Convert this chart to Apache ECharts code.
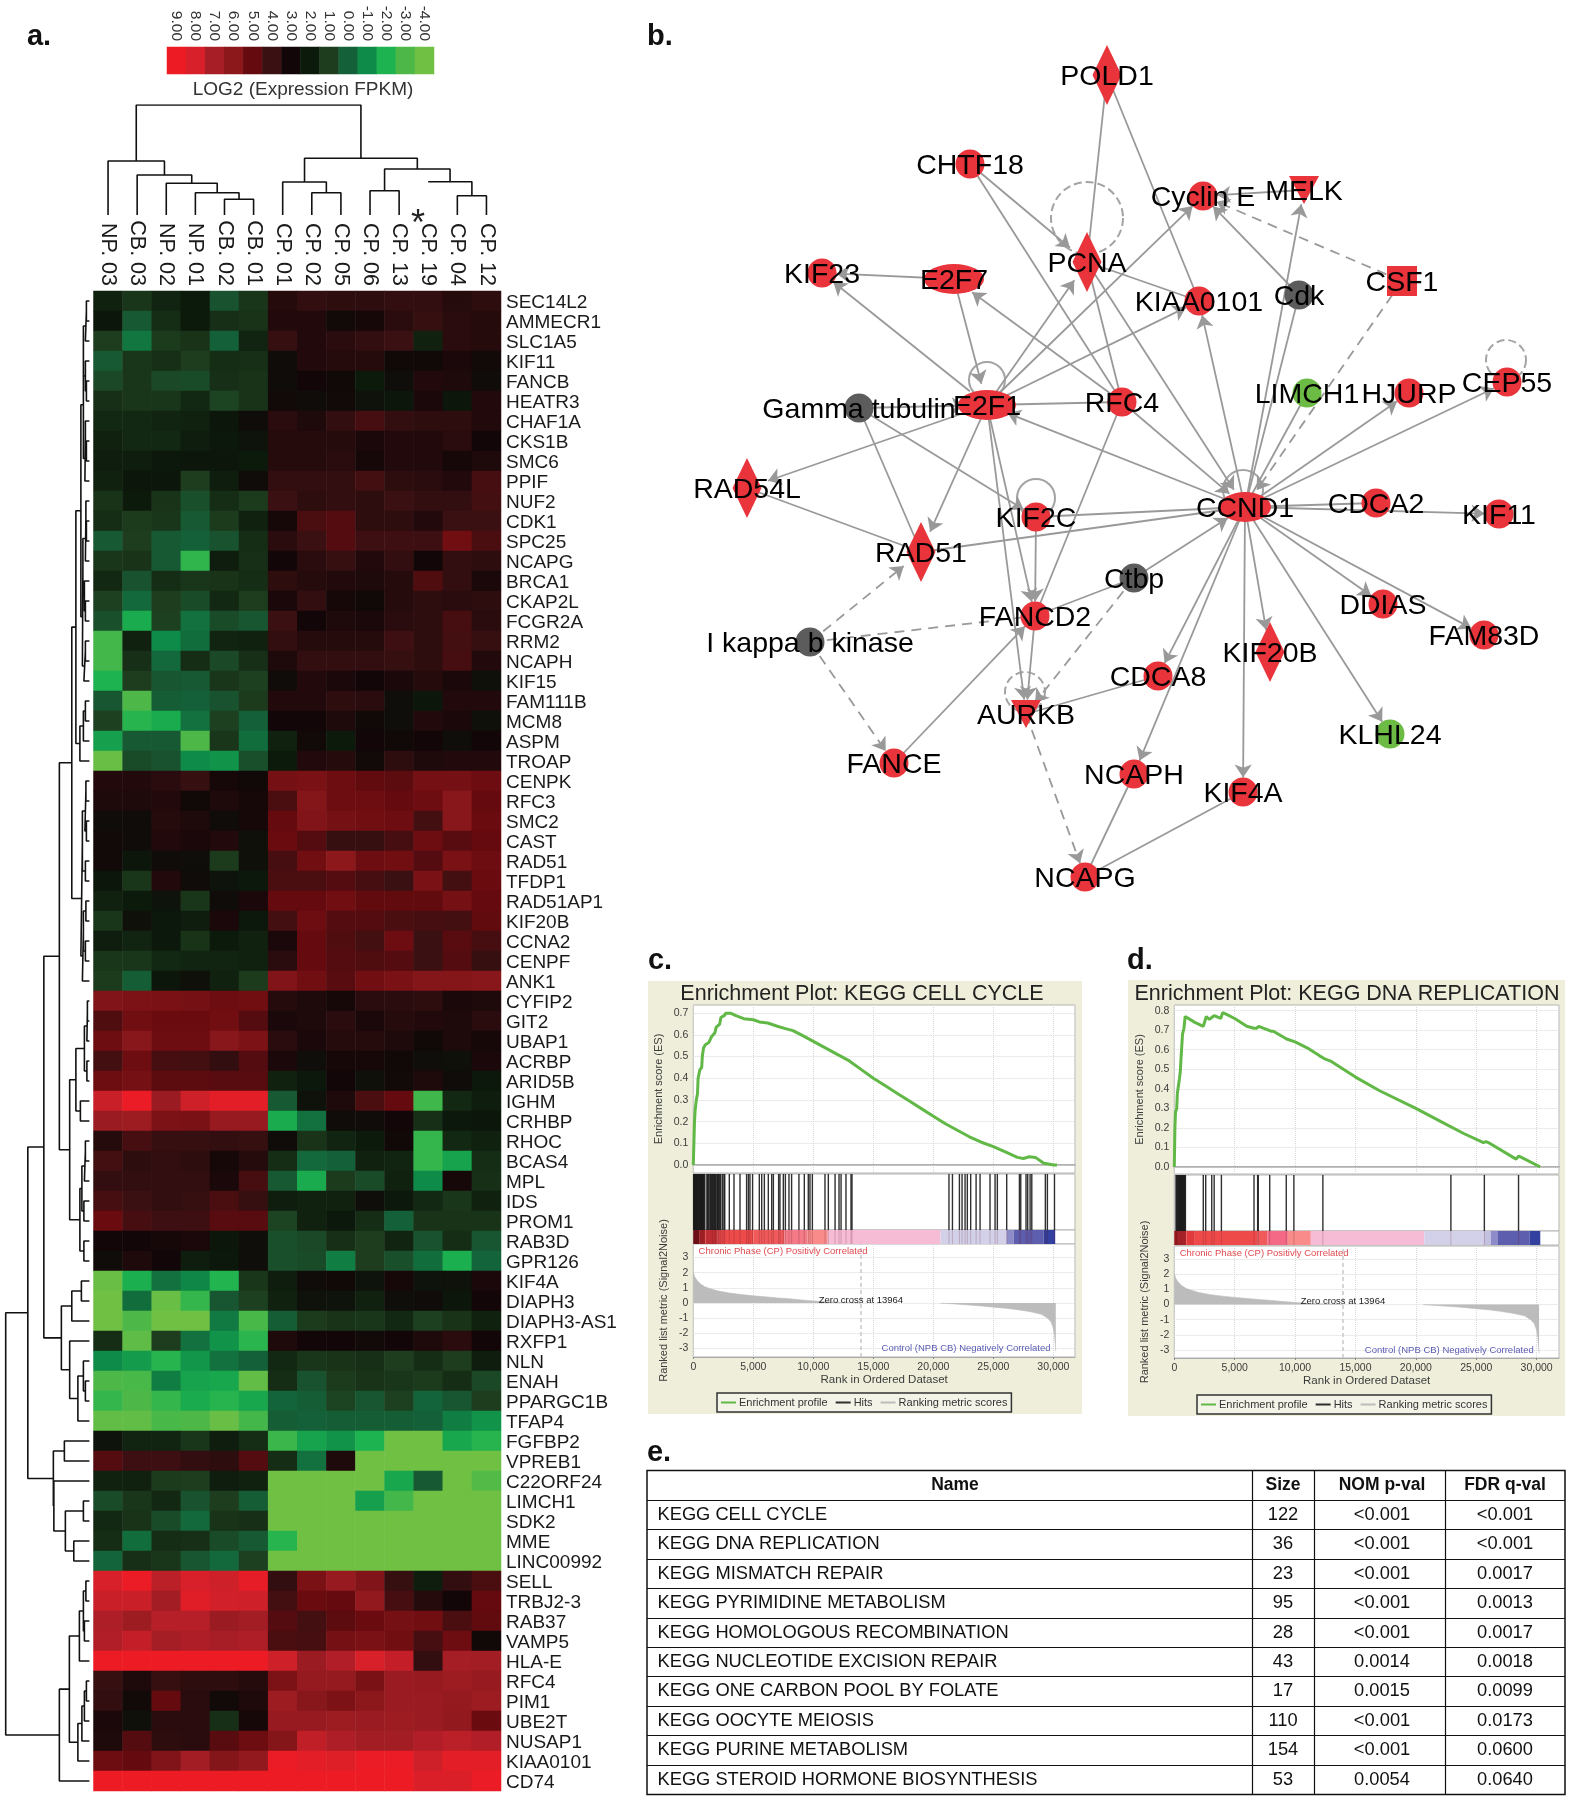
<!DOCTYPE html>
<html><head><meta charset="utf-8">
<style>html,body{margin:0;padding:0;background:#fff}#c{width:1575px;height:1798px}</style>
<script src="https://cdn.jsdelivr.net/npm/echarts@6/dist/echarts.min.js"></script>
</head><body><div id="c"></div>
<script>
const FONT='"Liberation Sans"';
// ---------- panel a data ----------
const sampleLabels=['NP. 03','CB. 03','NP. 02','NP. 01','CB. 02','CB. 01','CP. 01','CP. 02','CP. 05','CP. 06','CP. 13','CP. 19','CP. 04','CP. 12'];
const geneLabels=['SEC14L2','AMMECR1','SLC1A5','KIF11','FANCB','HEATR3','CHAF1A','CKS1B','SMC6','PPIF','NUF2','CDK1','SPC25','NCAPG','BRCA1','CKAP2L','FCGR2A','RRM2','NCAPH','KIF15','FAM111B','MCM8','ASPM','TROAP','CENPK','RFC3','SMC2','CAST','RAD51','TFDP1','RAD51AP1','KIF20B','CCNA2','CENPF','ANK1','CYFIP2','GIT2','UBAP1','ACRBP','ARID5B','IGHM','CRHBP','RHOC','BCAS4','MPL','IDS','PROM1','RAB3D','GPR126','KIF4A','DIAPH3','DIAPH3-AS1','RXFP1','NLN','ENAH','PPARGC1B','TFAP4','FGFBP2','VPREB1','C22ORF24','LIMCH1','SDK2','MME','LINC00992','SELL','TRBJ2-3','RAB37','VAMP5','HLA-E','RFC4','PIM1','UBE2T','NUSAP1','KIAA0101','CD74'];
const expression=[
[1.8,1.2,1.7,2,0.4,1.2,3.5,3.8,3.7,3.7,3.8,3.8,3.5,3.7],
[2.2,0.2,1.5,2,1.4,1.3,3.4,3.4,2.8,3.1,3.6,3.9,3.6,3.5],
[1,-0.5,1.1,1.3,0,1.7,3.9,3.4,3.6,3.8,4,1.8,3.6,3.5],
[0.2,1.2,1.4,1,1.5,1.4,2.7,3.4,3.5,3.5,2.9,2.9,3.2,2.8],
[0.7,1.2,0.7,0.6,1.4,1.3,2.7,3,2.9,2,2.6,3.4,3.3,2.7],
[1.4,1.2,1.2,1.6,0.8,1.3,2.8,2.7,2.8,2.4,2.2,3.2,2.2,3.4],
[1.6,1.6,1.7,1.8,2.2,2.7,3.6,3.3,3.8,4.3,3.8,3.7,3.7,3.4],
[1.8,1.6,1.6,1.9,2.1,2.3,3.5,3.5,3.5,3.2,3.4,3.4,3.6,3],
[1.9,1.9,2.1,2.2,2.2,2,3.5,3.5,3.6,3.1,3.4,3.4,3.1,3.3],
[1.8,2.2,2.2,1,1.9,2.7,3.8,3.8,3.8,4.2,3.7,3.6,3.4,4.3],
[1.3,2,1.3,0.5,1.5,1.1,4,3.7,3.8,3.7,4,3.8,3.8,4.2],
[1.5,1.1,1.2,0.2,1.1,1.8,3.1,4.4,4.6,3.7,3.7,3.4,4,4],
[0.2,1,0.2,0,0.4,1.5,3.6,4,4.6,4.1,4.1,4.1,5.3,4.4],
[1.2,1.3,0.2,-2.4,1.9,1.4,3,3.6,3.9,3.4,3.8,3,3.8,3.7],
[1.6,0.4,1.5,1.2,1.3,1.5,3.7,3.5,3.4,3.3,3.5,4.5,3.8,3.2],
[0.9,-0.2,1,0.6,1.6,1,3.2,3.8,3.1,2.9,3.5,3.7,3.6,3.7],
[0.5,-1.8,0.9,-0.4,0.6,0.3,4,3,3.3,3.2,3.6,3.7,4.3,3.6],
[-2.8,1.8,-1,-0.3,1.7,1.8,3.8,3.5,3.5,3.5,4.1,3.7,4.2,3.9],
[-2.8,1.4,-0.2,1.5,0.7,1.4,3.3,3.8,3.8,3.8,3.9,3.7,4.3,3.4],
[-2,1,0.3,0.2,1.2,0.9,2.7,3.4,3.2,3,3.2,3.5,3.2,2.5],
[0.3,-3,0.1,0,0.4,1.1,3.4,3.4,3.7,3.6,2.6,2.2,3.4,3.4],
[0.9,-2.2,-1.8,-0.4,0.9,0,3,3,3.3,2.9,2.6,3.4,3.2,2.5],
[-1.5,0.2,0.2,-3,1.2,-0.3,1.8,2.8,2,3,2.9,3,2.6,3],
[-3.8,0.6,0.4,-1,-1.2,0.5,2,3.4,3.5,2.8,3.7,3.3,3.4,3.4],
[3.4,3.4,3.6,3.9,3.1,2.9,5.4,5.5,5.2,4.9,4.8,5.4,5.4,5.2],
[3.3,3.3,3.4,2.9,3.3,3.1,4.4,5.8,5.2,5.2,5,5.2,5.9,5],
[2.7,2.7,3.5,3.3,2.7,3.1,5,5.7,5.4,5.3,5.2,4.2,5.9,5.1],
[2.8,2.7,3.4,3.2,3.4,2.5,5.1,4.6,3.9,3.9,4.3,5.2,4.7,5],
[2.8,2.2,2.7,2.6,1.1,2.5,4.3,5.3,6,5.2,5.3,4.6,5.5,5.2],
[2.2,1.2,3.4,2.7,2.3,2.1,4.4,4.4,4.6,4.3,4,5.5,4.2,5.1],
[1.8,2,2.3,1.2,2.7,3.2,5,5,5.3,4.9,4.9,4.9,5.4,5],
[1.2,2.5,2.1,1.9,3.2,2.1,4.2,5.2,4.6,4.6,4.4,4.3,4.2,4.9],
[1.9,1.7,2.1,1.3,2,1.8,3.2,5,4.5,4.2,5.2,4,4.7,4.3],
[1.2,1.2,1.6,1.7,1.7,1.8,3.6,5,4.6,4.5,4.6,4,4.6,3.9],
[1.1,0.1,2.2,2.5,1.8,1.1,5.7,5.3,4.7,5.3,5.5,5.8,5.8,5.9],
[5.7,5.6,5.5,5.4,5.2,5.3,3.5,3.3,3.1,3.6,3.6,3.7,3.2,3.3],
[4.5,5.3,5.1,5.1,5.3,4.6,3.2,3.3,3.6,3.2,3.5,3.4,3.3,3.6],
[5.2,5.9,5.2,5.2,5.9,5.6,3.6,3.2,3.5,3.5,3.3,2.9,3.3,3.1],
[4.2,5.2,4.3,4.2,3.8,4.6,3.2,2.6,3.1,3.1,2.9,2.6,2.5,3.2],
[5.2,5.4,4.8,4.8,4.7,4.7,1.8,2.1,3,2.5,2.8,3.3,2.7,2.1],
[7.7,8.9,6.5,7.8,8.6,8.6,0.2,2.4,3.3,4.4,5,-2.7,1.6,1.9],
[6.5,6.6,5.6,5.5,6.4,6.4,-1.8,-0.4,2.7,2.7,3,1.4,2.1,2.2],
[3.5,4.3,3.9,3.9,3.8,3.9,2.7,1.3,1.7,2,2.9,-2.5,1.6,1.8],
[4.2,3.7,3.8,3.7,3.1,3.5,1.5,-0.2,0,1.8,1.7,-2.5,-1.6,1.5],
[3.8,3.8,3.8,3.8,3.2,4.3,0.2,-1.8,1.1,0.6,1.8,-1,3.1,1.4],
[4.3,4,3.8,3.9,4.4,3.9,1.9,1.8,1.8,2.6,2.1,1.6,1.2,1.8],
[5.1,4.3,4.1,4.1,4.7,4.7,0.8,1.8,2.1,1.5,0,1.3,1.3,1.3],
[3,3,3.1,3.2,2.2,2.6,0.5,0.7,1.4,1,1.7,0.4,1.5,0.3],
[2.7,3.3,3,1.9,2.1,2.6,0.5,0.6,-0.7,1,0.5,-0.3,-1.9,-0.1],
[-3.8,-1.9,-0.4,-0.9,-2.1,1.2,1.9,2.7,2.9,2.3,3.1,2.3,2.4,3.2],
[-4,-0.3,-3.8,-2.5,0.3,0.9,1.8,2.4,2.3,1.8,2.6,2.7,2.2,3],
[-4,-3,-4,-4,-0.6,-2.9,0.1,1.1,1.3,1.2,1.6,0.9,1.3,1.8],
[1.5,-3.5,1,-0.4,-1.2,-2.3,3.3,3,3,2.8,3,3.3,3.6,3],
[-1,-1.4,-2.2,-1.3,-0.4,0,1.6,1.2,1.3,1.4,1,1.5,1,1.9],
[-3,-2.9,-0.7,-1.6,-1.7,-3.6,1.5,0.4,1.1,1.3,1.2,1.1,1.5,0.7],
[-2.5,-3,-2.5,-1.8,-2.2,-1.7,-0.1,0.1,0.8,0.3,0.9,-0.1,0.3,1],
[-3.6,-3.6,-2.9,-3,-3.8,-2.8,0.1,0,0.1,0.1,0.1,0,-0.7,-1.2],
[2.3,1.7,1.7,1.2,1.9,1.5,-2.6,-1.6,-1.2,-2,-4,-4,-1.7,-2.2],
[4.6,4.1,4.1,3.8,3.7,4.6,1.5,-0.4,3.3,-4,-4,-4,-4,-4],
[1.8,1.8,1.1,1,1.9,1.8,-4,-4,-4,-4,-1.7,0.2,-4,-3.2],
[0.6,1.2,1.6,0.4,1,0.1,-4,-4,-4,-1.5,-2.8,-4,-4,-4],
[1.6,1.3,0.6,-0.2,1.3,1.4,-4,-4,-4,-4,-4,-4,-4,-4],
[1.5,-0.3,1.5,1.4,0.6,0.2,-2.2,-4,-4,-4,-4,-4,-4,-4],
[-0.1,1.4,1.2,0.3,-0.2,0.9,-4,-4,-4,-4,-4,-4,-4,-4],
[8,8.9,7.4,8,7.8,8.7,3.8,5.5,6.4,5.7,3.9,1.9,3.8,4.4],
[7.7,7.7,6.8,8.4,7.9,7.8,4.2,5.1,5,6.2,4.3,3.5,3,5],
[7.1,6.6,7.3,7.3,6.5,6.8,4.6,4.2,4.8,5.1,5.4,5.3,4.4,4.9],
[7.2,7.6,6.9,7.1,7,7.1,4.4,4.3,5.4,5.5,5.3,4.3,5.2,2.9],
[9,9,9,9,9,9,7.8,6.5,7.2,8,7.6,3.8,6.9,6.8],
[3.9,3.3,3.9,3.7,3.7,3.5,5.6,6.3,6.3,5.5,6.5,6.4,6.6,6.4],
[3.8,2.8,5,3.6,2.8,3.3,6.6,5.9,5.6,6,6.5,6.5,6.3,6.6],
[3.2,2.5,3.6,3.6,1.4,3.1,6.4,6.4,6.6,6.5,6.6,6.5,6.2,5.1],
[3.3,4.6,3.7,3.6,4.7,5.2,5.8,7.5,7.1,6.8,6.8,7.2,7.4,7.2],
[5.2,5,5.7,6.8,5.8,6.2,8.9,8.6,8.3,8.9,8.9,7.8,8.6,8.6],
[9,9,9,9,9,9,9,9,9,9,9,8.2,8.2,8.9]];
const scaleValues=[9,8,7,6,5,4,3,2,1,0,-1,-2,-3,-4];
const scaleColors=['#70c044','#4db848','#1db350','#0e8b48','#146038','#1e3d1e','#0c1a0c','#120608','#3a1012','#650a0e','#8c181c','#a81e26','#d7202a','#ed1c24'];
// dendrograms: [height, childA, childB]; numbers are leaf indices
const colTree=[110,[54,0,[40,1,[31.7,2,[22.3,3,[15.7,4,5]]]]],[56.7,[33,6,[22.3,7,8]],[46,[24.3,9,10],[33.3,11,[19.3,12,13]]]]];
const colTreeNoStem=[11];
const r0_5=[6,[4,[3,0,1],2],[4,3,[3,4,5]]];
const r6_9=[4.5,[4,6,[3,7,8]],9];
const r10_19=[7,[6.5,[4,[3.5,10,[3,11,12]],13],[5,14,[4,15,16]]],[5.5,[4,17,18],19]];
const r0_23=[13.5,[8.5,[6,r0_5,r6_9],r10_19],[9.5,[6,[4,20,21],22],23]];
const r24_34=[8.5,[7,[4.5,[3.5,24,25],[3,26,27]],[4,28,29]],[7,[6,[3.5,30,31],[4,32,33]],34]];
const r35_41=[13.5,[5,[2.5,[2,35,36],37],[2.5,38,39]],[9,40,41]];
const r42_48=[9.5,[7.5,[5,[4,42,43],44],[5.5,45,46]],[5.5,47,48]];
const r49_56=[28,[17.6,[8,49,50],51],[19.7,52,[11.5,[6,53,[4,54,55]],56]]];
const r57_63=[36,[25,57,58],[35.5,59,[24,[6,60,61],[15.6,62,63]]]];
const r64_74=[30,[20,[10,[6,[3.5,64,65],[5,66,67]],68],[11.5,[7.5,[5,[3,69,70],71],72],73]],74];
const rowTree=[83.6,[61.5,[45.5,[30,[17.6,r0_23,r24_34],[19.7,r35_41,r42_48]],r49_56],r57_63],r64_74];
// ---------- panel b data ----------
const netNodes=[['POLD1',1107,75],['CHTF18',970,164],['Cyclin E',1203,196],['MELK',1304,190],['PCNA',1087,262],['KIF23',822,273],['E2F7',954,279],['KIAA0101',1199,301],['Cdk',1299,295],['CSF1',1402,281],['LIMCH1',1307,393],['HJURP',1409,393],['CEP55',1507,382],['Gamma tubulin',859,408],['E2F1',987,405],['RFC4',1122,402],['RAD54L',747,488],['CCND1',1245,507],['CDCA2',1376,503],['KIF11',1499,514],['KIF2C',1036,517],['RAD51',921,552],['Ctbp',1134,578],['DDIAS',1383,604],['FAM83D',1484,635],['FANCD2',1035,616],['I kappa b kinase',810,642],['KIF20B',1270,652],['CDCA8',1158,676],['AURKB',1026,714],['FANCE',894,763],['KLHL24',1390,734],['NCAPH',1134,774],['KIF4A',1243,792],['NCAPG',1085,877]];
const diamondNodes=['POLD1','PCNA','RAD54L','RAD51','KIF20B'];
const ellipseNodes=['E2F7','E2F1','CCND1'];
const triangleNodes=['MELK','AURKB'];
const squareNodes=['CSF1'];
const greyNodes=['Cdk','Gamma tubulin','Ctbp','I kappa b kinase'];
const greenNodes=['LIMCH1','KLHL24'];
// [source, target, kind] kind: a arrow, n none, b both ; d dashed arrow, m dashed no arrow
const netEdges=[['POLD1','PCNA','n'],['POLD1','KIAA0101','n'],['CHTF18','PCNA','a'],['CHTF18','RFC4','n'],['PCNA','CCND1','a'],['PCNA','KIAA0101','n'],['PCNA','RFC4','n'],['E2F7','KIF23','a'],['E2F7','E2F1','a'],['E2F1','KIF23','b'],['E2F1','PCNA','a'],['E2F1','Cyclin E','a'],['E2F1','KIAA0101','a'],['RFC4','E2F7','a'],['RFC4','E2F1','n'],['CCND1','E2F1','a'],['CCND1','KIAA0101','a'],['CCND1','Cdk','n'],['CCND1','MELK','a'],['Cdk','Cyclin E','a'],['MELK','Cyclin E','a'],['CSF1','Cyclin E','d'],['CSF1','CCND1','d'],['LIMCH1','CCND1','n'],['CCND1','HJURP','a'],['CCND1','CEP55','a'],['RFC4','CCND1','a'],['Gamma tubulin','E2F1','a'],['Gamma tubulin','RAD51','n'],['Gamma tubulin','KIF2C','a'],['E2F1','RAD54L','a'],['E2F1','RAD51','a'],['E2F1','FANCD2','a'],['E2F1','AURKB','a'],['RFC4','FANCD2','n'],['RAD54L','RAD51','n'],['RAD51','CCND1','n'],['KIF2C','CCND1','n'],['KIF2C','FANCD2','a'],['FANCD2','AURKB','a'],['Ctbp','FANCD2','n'],['Ctbp','CCND1','a'],['Ctbp','AURKB','d'],['I kappa b kinase','RAD51','d'],['I kappa b kinase','FANCD2','m'],['I kappa b kinase','FANCE','d'],['FANCE','FANCD2','a'],['CDCA8','AURKB','n'],['CCND1','CDCA8','a'],['CCND1','NCAPH','a'],['CCND1','KIF20B','a'],['CCND1','KIF4A','a'],['CCND1','KLHL24','a'],['CCND1','DDIAS','a'],['CCND1','FAM83D','a'],['CCND1','CDCA2','n'],['CCND1','KIF11','a'],['AURKB','NCAPG','d'],['NCAPH','NCAPG','n'],['KIF4A','NCAPG','n']];
// self loops: x, y, diameter
const solidLoops=[[987,380,36],[1036,498,38],[1243,490,40]];
const dashedLoops=[[1087,218,72],[1506,360,40],[1025,692,40]];
// ---------- panels c, d data ----------
const esCurveC=[[0,0],[50,.1],[100,.2],[150,.25],[250,.3],[350,.33],[400,.4],[550,.44],[700,.45],[750,.5],[850,.54],[1000,.555],[1300,.565],[1500,.59],[1800,.61],[1900,.635],[2200,.65],[2300,.68],[2600,.69],[2700,.7],[3100,.7],[3500,.69],[4200,.675],[5000,.67],[5500,.66],[6200,.655],[7000,.64],[7600,.63],[8300,.62],[9000,.6],[10000,.57],[11000,.54],[12000,.51],[13000,.48],[14000,.44],[15000,.4],[16000,.365],[17000,.33],[18000,.295],[19000,.26],[20000,.225],[21000,.19],[22000,.16],[23000,.13],[24000,.105],[25000,.085],[26000,.06],[27000,.035],[27500,.03],[28000,.038],[28500,.035],[29200,.008],[29700,.003],[30000,0],[30300,0]];
const esCurveD=[[0,0],[50,.2],[100,.28],[200,.3],[250,.375],[400,.38],[420,.45],[500,.49],[550,.55],[620,.62],[680,.68],[800,.71],[900,.77],[1000,.765],[1700,.74],[2400,.72],[2500,.73],[2650,.77],[2900,.755],[3100,.765],[3300,.775],[3850,.76],[4000,.79],[4200,.785],[5000,.76],[6000,.72],[6600,.71],[6800,.71],[7000,.72],[7200,.715],[8000,.695],[8200,.695],[9300,.655],[10000,.64],[11000,.61],[12000,.57],[12400,.555],[13000,.54],[15000,.46],[17000,.39],[20000,.3],[22000,.235],[24000,.17],[25600,.125],[25800,.13],[26000,.125],[28300,.04],[28500,.055],[28700,.05],[30300,0]];
const esTicksC=[0,.1,.2,.3,.4,.5,.6,.7];
const esTicksD=[0,.1,.2,.3,.4,.5,.6,.7,.8];
const metricTicks=[-3,-2,-1,0,1,2,3];
const hitsC=[30,70,110,150,190,230,270,310,360,400,450,500,540,590,640,680,720,760,810,850,900,960,1130,1200,1280,1380,1450,1530,1600,1650,1720,1780,1850,1900,2000,2050,2100,2200,2280,2420,2550,2620,3000,3390,3890,4440,4590,4720,4940,5500,5700,5920,6250,6530,6670,7110,7220,7500,7670,7970,8190,8800,9250,9580,9720,9920,10970,11250,11810,12140,12310,12720,13140,13220,21300,21590,22170,22390,22640,22830,23110,23560,23890,24720,25140,25330,26110,27170,27280,27720,27860,28060,28200,29330,29500,30090];
const hitsD=[140,200,270,330,380,430,480,530,580,620,670,720,770,820,870,920,2400,2600,3100,3300,3900,6600,6900,6950,7900,9270,9900,12300,22900,25670,28500];
const barEdgesC=[0,500,1000,2000,5000,7600,9500,11200,20600,26100,26700,29200,30150];
const barColorsC=['#7a1418','#c42b2b','#d8363a','#ed4a4a','#f15a5a','#f47a88','#f98b8b','#f6bcd6','#d3d1e9','#8d8cc9','#5e5eae','#33409f'];
const barEdgesD=[0,300,1000,1700,6900,7700,9400,11300,20700,25600,26200,26800,29400,30300];
const barColorsD=['#a0181c','#c82b2e','#e03a3c','#ef4a4a','#f15a5a','#f46a86','#f98b8b','#f6bcd6','#d3d1e9','#c3c1e0','#8d8cc9','#5e5eae','#3340a0'];
const metricPos=[[0,2.1],[100,1.75],[300,1.5],[600,1.25],[1000,1.05],[1500,.92],[2000,.8],[3000,.65],[4000,.55],[5000,.47],[6000,.4],[7000,.33],[8000,.27],[9000,.2],[10000,.13],[11000,.08],[12000,.05],[13000,.02],[13964,0]];
const metricNeg=[[20600,-.02],[21000,-.03],[22000,-.08],[23000,-.14],[24000,-.2],[25000,-.28],[26000,-.35],[27000,-.45],[28000,-.57],[29000,-.75],[29500,-1],[29800,-1.25],[30000,-1.7],[30100,-2.2],[30200,-3.2]];
const legendNames=['Enrichment profile','Hits','Ranking metric scores'];
// ---------- panel e data ----------
const tableHeader=['Name','Size','NOM p-val','FDR q-val'];
const tableNames=['KEGG CELL CYCLE','KEGG DNA REPLICATION','KEGG MISMATCH REPAIR','KEGG PYRIMIDINE METABOLISM','KEGG HOMOLOGOUS RECOMBINATION','KEGG NUCLEOTIDE EXCISION REPAIR','KEGG ONE CARBON POOL BY FOLATE','KEGG OOCYTE MEIOSIS','KEGG PURINE METABOLISM','KEGG STEROID HORMONE BIOSYNTHESIS'];
const tableSize=[122,36,23,95,28,43,17,110,154,53];
const tableNom=['<0.001','<0.001','<0.001','<0.001','<0.001','0.0014','0.0015','<0.001','<0.001','0.0054'];
const tableFdr=['<0.001','<0.001','0.0017','0.0013','0.0017','0.0018','0.0099','0.0173','0.0600','0.0640'];

// ---------- builders ----------
function treeSegments(tree,noStem){
  const out=[];
  const walk=n=>{
    if(typeof n==='number')return{p:n+.5,h:0,leaf:n};
    const a=walk(n[1]),b=walk(n[2]),h=n[0];
    const aS=noStem.includes(a.leaf)?h:a.h,bS=noStem.includes(b.leaf)?h:b.h;
    out.push([aS,a.p],[h,a.p],[h,b.p],[bS,b.p],[null,null]);
    return{p:(a.p+b.p)/2,h};
  };
  walk(tree);return out;
}
const grid=[],xAxis=[],yAxis=[],series=[];
function addGrid(g,x,y){grid.push(Object.assign({containLabel:false},g));const i=grid.length-1;
  xAxis.push(Object.assign({gridIndex:i},x));yAxis.push(Object.assign({gridIndex:i},y));return i;}
const hidden={show:false};
const blackLine={color:'#111',width:1.6};
// column dendrogram
let gi=addGrid({left:93.5,top:105,width:407.5,height:110},Object.assign({type:'value',min:0,max:14},hidden),Object.assign({type:'value',min:0,max:110},hidden));
series.push({type:'line',xAxisIndex:gi,yAxisIndex:gi,symbol:'none',silent:true,lineStyle:blackLine,data:treeSegments(colTree,colTreeNoStem).map(p=>[p[1],p[0]])});
// row dendrogram
gi=addGrid({left:5.7,top:291,width:83.7,height:1500},Object.assign({type:'value',min:0,max:83.6,inverse:true},hidden),Object.assign({type:'value',min:0,max:75,inverse:true},hidden));
series.push({type:'line',xAxisIndex:gi,yAxisIndex:gi,symbol:'none',silent:true,lineStyle:blackLine,data:treeSegments(rowTree,[])});
// heatmap
gi=addGrid({left:93.5,top:291,width:407.5,height:1500},
 {type:'category',position:'top',data:sampleLabels,axisLine:hidden,axisTick:hidden,splitLine:hidden,axisLabel:{rotate:90,fontSize:21.5,margin:5,color:'#1a1a1a',fontFamily:FONT,interval:0}},
 {type:'category',position:'right',inverse:true,data:geneLabels,axisLine:hidden,axisTick:hidden,splitLine:hidden,axisLabel:{margin:5,interval:0,formatter:v=>'{a|'+v+'}',rich:{a:{fontSize:19,color:'#1a1a1a',fontFamily:FONT,padding:[4,0,0,0]}}}});
const heatIdx=series.length;
const heatData=[];expression.forEach((r,y)=>r.forEach((v,x)=>heatData.push([x,y,v])));
series.push({type:'heatmap',xAxisIndex:gi,yAxisIndex:gi,data:heatData,silent:true,progressive:0});
// colour scale
gi=addGrid({left:167,top:47,width:267,height:27},
 {type:'category',position:'top',data:scaleValues.map(v=>v.toFixed(2)),axisLine:hidden,axisTick:hidden,splitLine:hidden,axisLabel:{rotate:90,fontSize:15.5,margin:6,color:'#333',fontFamily:FONT,interval:0}},
 Object.assign({type:'category',data:['s']},hidden));
const barIdx=series.length;
series.push({type:'heatmap',xAxisIndex:gi,yAxisIndex:gi,data:scaleValues.map((v,i)=>[i,0,v]),silent:true,progressive:0});
// network
const ell='path://M0,50A100,50 0 1,1 200,50A100,50 0 1,1 0,50Z';
gi=addGrid({left:0,top:0,width:1575,height:1798},Object.assign({type:'value',min:0,max:1575},hidden),Object.assign({type:'value',min:0,max:1798,inverse:true},hidden));
const loopSeries=(arr,type)=>({type:'scatter',xAxisIndex:gi,yAxisIndex:gi,silent:true,z:1,symbol:'circle',
  symbolSize:d=>d[2],itemStyle:{color:'transparent',borderColor:'#a3a3a3',borderWidth:2,borderType:type,opacity:1},data:arr});
series.push(loopSeries(solidLoops,'solid'),loopSeries(dashedLoops,'dashed'));
series.push({type:'graph',coordinateSystem:'cartesian2d',xAxisIndex:gi,yAxisIndex:gi,silent:true,z:2,
 edgeSymbol:['none','arrow'],edgeSymbolSize:[0,13],
 lineStyle:{color:'#999',width:1.8,opacity:1},
 label:{show:true,position:'inside',color:'#000',fontSize:28.5,fontFamily:FONT,offset:[0,2]},
 data:netNodes.map(n=>{
   const name=n[0];let symbol='circle',size=29,color='#e8343a';
   if(diamondNodes.includes(name)){symbol='diamond';size=[29,60];}
   if(ellipseNodes.includes(name)){symbol=ell;size=[name==='CCND1'?52:name==='E2F7'?60:58,30];}
   if(triangleNodes.includes(name)){symbol='path://M0,0L100,0L50,100Z';size=[30,28];}
   if(squareNodes.includes(name)){symbol='rect';size=[30,30];}
   if(greyNodes.includes(name))color='#5c5c5c';
   if(greenNodes.includes(name))color='#6cbb45';
   return{name,value:[n[1],n[2]],symbol,symbolSize:size,itemStyle:{color}};
 }),
 links:netEdges.map(e=>{
   const k=e[2],l={source:e[0],target:e[1]};
   if(k==='n'||k==='m')l.symbol=['none','none'];
   if(k==='b')l.symbol=['arrow','arrow'];
   if(k==='d'||k==='m')l.lineStyle={type:[10,7]};
   return l;
 })});
// GSEA panels
const dottedStyle={color:'#d8d8d8',type:'dotted',width:1};
const dotted={show:true,lineStyle:dottedStyle};
const tickLabel={fontSize:10.5,color:'#3c3c3c',fontFamily:FONT,margin:5};
const green='#62b846',hitCol='#1a1a1a',metricCol='#bcbcbc';
const gridLines=vals=>vals.map(v=>({yAxis:v}));
function gsea(p){
  const xr={type:'value',min:0,max:p.xMax,interval:5000};
  const border={show:true,backgroundColor:'#fff',borderColor:'#b5b5b5',borderWidth:1};
  // ES
  let g=addGrid(Object.assign({left:p.left,width:p.w,top:p.esTop,height:p.esH},border),
    Object.assign({},xr,{axisLine:{onZero:true,lineStyle:{color:'#b0b0b0',width:2}},axisTick:hidden,axisLabel:hidden,splitLine:dotted}),
    {type:'value',min:p.esMin,max:p.esMax,axisLine:hidden,axisTick:hidden,splitLine:hidden,
     axisLabel:Object.assign({},tickLabel,{customValues:p.esTicks,formatter:v=>v.toFixed(1)}),
     name:'Enrichment score (ES)',nameLocation:'middle',nameGap:p.esGap,nameTextStyle:{fontSize:11,color:'#3c3c3c',fontFamily:FONT}});
  series.push({name:legendNames[0],type:'line',xAxisIndex:g,yAxisIndex:g,symbol:'none',silent:true,color:green,itemStyle:{color:green},lineStyle:{color:green,width:3},data:p.es,
    markLine:{silent:true,symbol:'none',label:hidden,lineStyle:dottedStyle,z:1,data:gridLines(p.esTicks)}});
  // hits
  g=addGrid(Object.assign({left:p.left,width:p.w,top:p.hitTop,height:p.hitH},border),Object.assign({},xr,hidden),Object.assign({type:'value',min:0,max:1},hidden));
  series.push({name:legendNames[1],type:'scatter',xAxisIndex:g,yAxisIndex:g,silent:true,symbol:'rect',symbolSize:[1.4,p.hitH],color:hitCol,itemStyle:{color:hitCol,opacity:.9},data:p.hits.map(h=>[h,.5]),clip:true});
  // colour bar
  g=addGrid({left:p.left,width:p.w,top:p.barTop,height:p.barH,show:true,backgroundColor:'#fff',borderColor:'#b5b5b5',borderWidth:1},Object.assign({},xr,hidden),Object.assign({type:'value',min:0,max:1},hidden));
  series.push({type:'custom',xAxisIndex:g,yAxisIndex:g,silent:true,
    data:p.colors.map((c,i)=>[p.edges[i],p.edges[i+1],i]),
    renderItem:(par,api)=>{const a=api.coord([api.value(0),1]),b=api.coord([api.value(1),0]);
      return{type:'rect',shape:{x:a[0],y:a[1],width:b[0]-a[0],height:b[1]-a[1]},style:{fill:p.colors[api.value(2)]}};},
    encode:{x:[0,1],y:2}});
  series.push({type:'scatter',xAxisIndex:g,yAxisIndex:g,silent:true,symbol:'rect',symbolSize:[1,p.barH],itemStyle:{color:'rgba(90,20,30,.22)',opacity:1},data:p.hits.map(h=>[h,.5])});
  // metric
  g=addGrid(Object.assign({left:p.left,width:p.w,top:p.mTop,height:p.mH},border),
    Object.assign({},xr,{position:'bottom',axisLine:{onZero:false,lineStyle:{color:'#aaa'}},axisTick:{show:true,length:2,lineStyle:{color:'#888'}},splitLine:dotted,
      axisLabel:Object.assign({},tickLabel,{margin:5,formatter:v=>v.toLocaleString('en-US'),showMaxLabel:false}),
      name:'Rank in Ordered Dataset',nameLocation:'middle',nameGap:16,nameTextStyle:{fontSize:11.5,color:'#3c3c3c',fontFamily:FONT}}),
    {type:'value',min:p.mMin,max:p.mMax,axisLine:hidden,axisTick:hidden,splitLine:hidden,
     axisLabel:Object.assign({},tickLabel,{customValues:metricTicks}),
     name:'Ranked list metric (Signal2Noise)',nameLocation:'middle',nameGap:p.mGap,nameTextStyle:{fontSize:11,color:'#3c3c3c',fontFamily:FONT}});
  const area={type:'line',xAxisIndex:g,yAxisIndex:g,silent:true,symbol:'none',color:metricCol,itemStyle:{color:metricCol},lineStyle:{color:metricCol,width:.6},areaStyle:{color:metricCol,opacity:1,origin:0}};
  series.push(Object.assign({},area,{name:legendNames[2],data:metricPos,
    markLine:{silent:true,symbol:'none',label:hidden,lineStyle:dottedStyle,z:1,
      data:gridLines(metricTicks).concat([{xAxis:13964,lineStyle:{color:'#c8c8c8',type:[4,3],width:1.5}}])}}));
  series.push(Object.assign({},area,{name:legendNames[2],data:metricNeg}));
  const note=(txt,x,y,pos,col,fs)=>({type:'scatter',xAxisIndex:g,yAxisIndex:g,silent:true,symbolSize:1,itemStyle:{color:'transparent',opacity:1},z:5,
     label:{show:true,position:pos,distance:0,formatter:txt,color:col,fontSize:fs,fontFamily:FONT},data:[[x,y]]});
  series.push(note('Zero cross at 13964',13964,.18,'inside','#222',9.5));
  series.push(note('Chronic Phase (CP) Positivly Correlated',400,3.4,'right','#e04a50',9.5));
  series.push(note('Control (NPB CB) Negatively Correlated',29800,p.ctlY,'left','#5a5cb4',9.5));
}
gsea({left:693.3,w:381.7,xMax:31800,es:esCurveC,hits:hitsC,edges:barEdgesC,colors:barColorsC,esTicks:esTicksC,
  esTop:1005,esH:168,esMin:-.037,esMax:.738,esGap:29,
  hitTop:1174,hitH:56,barTop:1230,barH:14,
  mTop:1244,mH:113,mMin:-3.58,mMax:3.9,mGap:24,ctlY:-3.0});
gsea({left:1174.3,w:384.7,xMax:31850,es:esCurveD,hits:hitsD,edges:barEdgesD,colors:barColorsD,esTicks:esTicksD,
  esTop:1005,esH:169,esMin:-.036,esMax:.829,esGap:29,
  hitTop:1175,hitH:56,barTop:1231,barH:14,
  mTop:1246,mH:112,mMin:-3.53,mMax:3.86,mGap:24,ctlY:-3.05});
// table
gi=addGrid({left:647,top:1470.5,width:918,height:324,show:true,borderColor:'#111',borderWidth:1.5},
  Object.assign({type:'value',min:0,max:918},hidden),
  {type:'category',inverse:true,data:['Header'].concat(tableNames),axisLine:hidden,axisTick:hidden,axisLabel:hidden,splitLine:{show:true,interval:0,lineStyle:{color:'#111',width:1.2}}});
const colSeries=(x,vals,pos)=>({type:'scatter',xAxisIndex:gi,yAxisIndex:gi,silent:true,symbolSize:1,itemStyle:{color:'transparent',opacity:1},z:5,
   label:{show:true,position:pos,distance:0,formatter:'{b}',color:'#111',fontSize:18.3,fontFamily:FONT},
   data:vals.map((v,i)=>({name:String(v),value:[x,i+1]}))});
series.push(Object.assign(colSeries(10,tableNames,'right'),{markLine:{silent:true,symbol:'none',label:hidden,lineStyle:{color:'#111',width:1.2,type:'solid'},data:[{xAxis:605},{xAxis:667},{xAxis:798}]}}));
series.push(colSeries(636,tableSize,'inside'),colSeries(735,tableNom,'inside'),colSeries(858,tableFdr,'inside'));
series.push({type:'scatter',xAxisIndex:gi,yAxisIndex:gi,silent:true,symbolSize:1,itemStyle:{color:'transparent',opacity:1},z:5,
  label:{show:true,position:'inside',distance:0,formatter:'{b}',color:'#111',fontSize:17.5,fontWeight:'bold',fontFamily:FONT},
  data:[308,636,735,858].map((x,i)=>({name:tableHeader[i],value:[x,0]}))});

const txt=(t,x,y,size,weight,color,rot)=>({type:'text',x,y,rotation:rot||0,z:50,silent:true,style:{text:t,fontSize:size,fontWeight:weight||'normal',fontFamily:FONT,fill:color||'#222',align:'center',verticalAlign:'middle'}});
const bg=(x,y,w,h)=>({type:'rect',z:-10,silent:true,shape:{x,y,width:w,height:h},style:{fill:'#efeeda'}});
const legendBase={itemWidth:15,itemHeight:2,itemGap:8,padding:[4,4],selectedMode:false,borderColor:'#333',borderWidth:1.5,backgroundColor:'#f4f3e8',textStyle:{fontSize:11,color:'#333',padding:[0,0,0,-2]},icon:'rect',data:legendNames};
const chart=echarts.init(document.getElementById('c'),null,{renderer:'canvas'});
chart.setOption({
  animation:false,backgroundColor:'#fff',textStyle:{fontFamily:FONT},
  grid,xAxis,yAxis,series,
  visualMap:{type:'continuous',show:false,min:-4,max:9,dimension:2,seriesIndex:[heatIdx,barIdx],inRange:{color:scaleColors}},
  legend:[Object.assign({left:717,top:1393},legendBase),Object.assign({left:1197,top:1395},legendBase)],
  graphic:[
    bg(648,981,434,433),bg(1128,980,437,436),
    txt('a.',39,37,29,'bold','#111'),txt('b.',660,37,29,'bold','#111'),txt('c.',660,961,29,'bold','#111'),txt('d.',1140,961,29,'bold','#111'),txt('e.',659,1453,29,'bold','#111'),
    txt('LOG2 (Expression FPKM)',303,90,19,'normal','#333'),
    txt('*',418,225,36,'normal','#222'),
    txt('Enrichment Plot: KEGG CELL CYCLE',862,994,21.5,'normal','#222'),
    txt('Enrichment Plot: KEGG DNA REPLICATION',1347,994,21.5,'normal','#222')
  ]
});
</script></body></html>
